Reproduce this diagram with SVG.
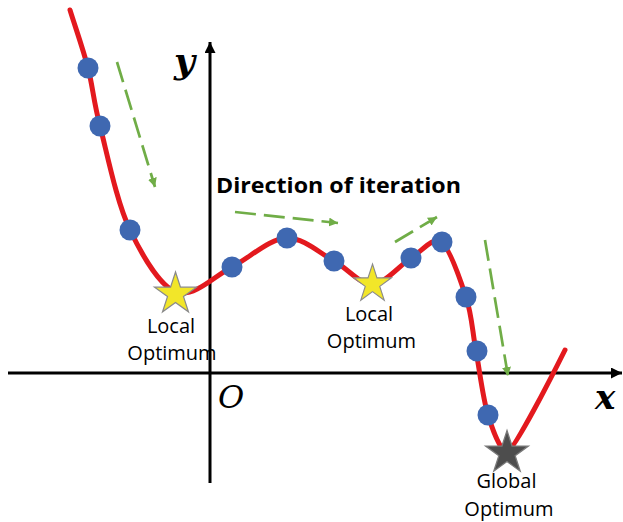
<svg xmlns="http://www.w3.org/2000/svg" width="623" height="522" viewBox="0 0 623 522">
<style>
.axis{stroke:#000;stroke-width:3;fill:none}
.curve{stroke:#E3191E;stroke-width:5;fill:none;stroke-linecap:round}
.dot{fill:#3F68B1}
.garrow{stroke:#70AD47;stroke-width:2.7;fill:none;stroke-dasharray:21 8}
.lbl{font-family:"Open Sans","Liberation Sans",sans-serif;font-size:20px;fill:#000;text-anchor:middle}
.title{font-family:"Open Sans","Liberation Sans",sans-serif;font-size:22px;font-weight:bold;fill:#000}
.math{font-family:"DejaVu Serif","Liberation Serif",serif;font-style:italic;fill:#000}
</style>
<defs>
<marker id="axhead" markerUnits="userSpaceOnUse" markerWidth="12" markerHeight="11" refX="11" refY="5.5" orient="auto">
<path d="M0,0 L11,5.5 L0,11 z" fill="#000"/>
</marker>
<marker id="ghead" markerUnits="userSpaceOnUse" markerWidth="10" markerHeight="9" refX="9" refY="4.5" orient="auto">
<path d="M0,0 L9,4.5 L0,9 z" fill="#70AD47"/>
</marker>
<polygon id="star" points="0,-21 4.71,-6.49 19.97,-6.49 7.63,2.48 12.34,16.99 0,8.02 -12.34,16.99 -7.63,2.48 -19.97,-6.49 -4.71,-6.49"/>
</defs>
<rect width="623" height="522" fill="#fff"/>
<g id="connectors">
<line class="axis" x1="8" y1="373" x2="622" y2="373" marker-end="url(#axhead)"/>
<line class="axis" x1="210" y1="483" x2="210" y2="42" marker-end="url(#axhead)"/>
<path class="curve" d="M70,10 C76,29.3 83,48.7 88,68 C93,87.3 93,99 100,126 C107,153 116.7,202.2 130,230 C143.3,257.8 163,291 180,293 C197,295 214.2,276.2 232,267 C249.8,257.8 270,238 287,238 C304,238 319.8,253.3 334,261 C348.2,268.7 359,284 372,284 C385,284 399.7,265.2 411,258 C422.3,250.8 432,238 440,241 C448,244 460,278.7 466,297 C472,315.3 472.3,331.3 476,351 C479.7,370.7 482.8,398.2 488,415 C493.2,431.8 501,452 507,452 C513,452 551,378 565,350"/>
<line class="garrow" x1="117" y1="62" x2="155" y2="187" marker-end="url(#ghead)"/>
<line class="garrow" x1="235" y1="212" x2="338" y2="223" marker-end="url(#ghead)"/>
<line class="garrow" x1="395" y1="242" x2="437" y2="217" marker-end="url(#ghead)"/>
<line class="garrow" x1="485" y1="240" x2="508" y2="376" marker-end="url(#ghead)"/>
</g>
<g id="points">
<circle class="dot" cx="88" cy="68" r="10.5"/>
<circle class="dot" cx="100" cy="126" r="10.5"/>
<circle class="dot" cx="130" cy="230" r="10.5"/>
<circle class="dot" cx="232" cy="267" r="10.5"/>
<circle class="dot" cx="287" cy="238" r="10.5"/>
<circle class="dot" cx="334" cy="261" r="10.5"/>
<circle class="dot" cx="411" cy="258" r="10.5"/>
<circle class="dot" cx="442" cy="242" r="10.5"/>
<circle class="dot" cx="466" cy="297" r="10.5"/>
<circle class="dot" cx="477" cy="351" r="10.5"/>
<circle class="dot" cx="488" cy="415" r="10.5"/>
</g>
<g id="local-optimum-1">
<use href="#star" transform="translate(175.5,294) scale(1.05)" fill="#F2E629" stroke="#8A8A8A" stroke-width="1.2"/>
<text class="lbl" x="171" y="333">Local</text>
<text class="lbl" x="172" y="360">Optimum</text>
</g>
<g id="local-optimum-2">
<use href="#star" transform="translate(372.5,284) scale(0.95)" fill="#F2E629" stroke="#8A8A8A" stroke-width="1.2"/>
<text class="lbl" x="369" y="321">Local</text>
<text class="lbl" x="371.5" y="348">Optimum</text>
</g>
<g id="global-optimum">
<use href="#star" transform="translate(507,453) scale(1.07)" fill="#4D4D4D" stroke="#7A7A7A" stroke-width="1.2"/>
<text class="lbl" x="506.5" y="488">Global</text>
<text class="lbl" x="509" y="516">Optimum</text>
</g>
<g id="labels">
<text class="title" x="216" y="193" textLength="245" lengthAdjust="spacingAndGlyphs">Direction of iteration</text>
<text class="math" x="174" y="73" font-size="36" font-weight="bold">y</text>
<text class="math" x="218" y="408" font-size="32">O</text>
<text class="math" x="595" y="409" font-size="34" font-weight="bold">x</text>
</g>
</svg>
